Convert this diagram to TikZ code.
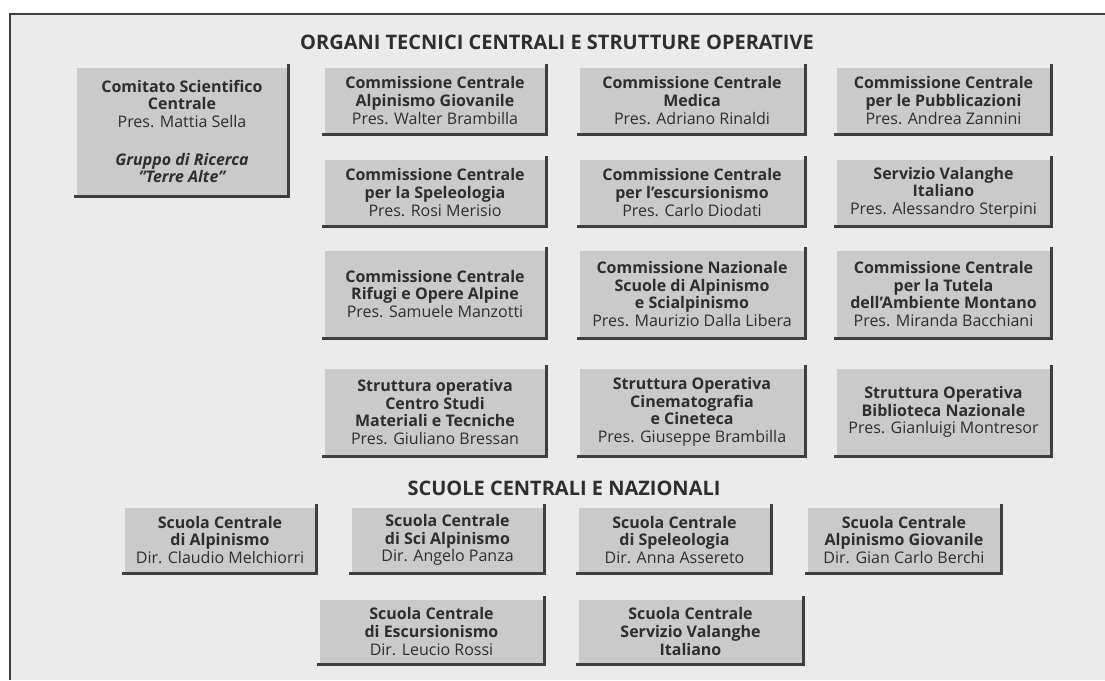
\documentclass[tikz,border=0pt]{standalone}
\usepackage{fontspec}
\setmainfont{Open Sans}
\definecolor{sfondo}{HTML}{EBEBEB}
\definecolor{cassa}{HTML}{CACACA}
\definecolor{ombra}{HTML}{3E3E3E}
\definecolor{testo}{HTML}{2E2E2E}
\newcommand{\presid}[1]{{\mdseries #1}}
\begin{document}
\begin{tikzpicture}
    [
  x=1pt, y=-1pt,
  ente/.style={
    rectangle,
    fill=cassa,
    inner sep=0pt,
    align=center,
    text=testo,
    font=\fontsize{16}{17.6}\selectfont\bfseries
  },
  titolo/.style={
    text=testo,
    inner sep=0pt,
    font=\fontsize{20}{24}\selectfont\bfseries
  },
  ombreggia/.style={
    draw=ombra,
    line width=3.5pt
  }
  ]
  \useasboundingbox (0,0) rectangle (1105,680);
  \fill [sfondo] (10,14) rectangle (1105,680);
  \coordinate (angolo) at (10,14);
  \coordinate (fineA) at (1105,14);
  \coordinate (fineB) at (10,680);
  \draw [ombra, line width=1.6pt] (fineB) -- (angolo) -- (fineA);

  \node (organi) at (557,42) [titolo] {ORGANI TECNICI CENTRALI E STRUTTURE OPERATIVE};
  \node (scuole) at (564,488) [titolo] {SCUOLE CENTRALI E NAZIONALI};

  \node (comitato) at (182,131.5) [ente, minimum width=210pt, minimum height=127pt]
    {Comitato Scientifico\\Centrale\\\presid{Pres. Mattia Sella}\\[20pt]
     {\itshape Gruppo di Ricerca}\\{\itshape "Terre Alte"}};

  \node (giovanile) at (435,100.5) [ente, minimum width=220pt, minimum height=65pt]
    {Commissione Centrale\\Alpinismo Giovanile\\\presid{Pres. Walter Brambilla}};
  \node (medica) at (692,100.5) [ente, minimum width=224pt, minimum height=65pt]
    {Commissione Centrale\\Medica\\\presid{Pres. Adriano Rinaldi}};
  \node (pubblicazioni) at (943.5,100.5) [ente, minimum width=213pt, minimum height=65pt]
    {Commissione Centrale\\per le Pubblicazioni\\\presid{Pres. Andrea Zannini}};

  \node (speleologia) at (435,192.5) [ente, minimum width=220pt, minimum height=65pt]
    {Commissione Centrale\\per la Speleologia\\\presid{Pres. Rosi Merisio}};
  \node (escursionismo) at (692,192.5) [ente, minimum width=224pt, minimum height=65pt]
    {Commissione Centrale\\per l’escursionismo\\\presid{Pres. Carlo Diodati}};
  \node (valanghe) at (943.5,192.5) [ente, minimum width=213pt, minimum height=65pt]
    {Servizio Valanghe\\Italiano\\\presid{Pres. Alessandro Sterpini}};

  \node (rifugi) at (435,294) [ente, minimum width=220pt, minimum height=86pt]
    {Commissione Centrale\\Rifugi e Opere Alpine\\\presid{Pres. Samuele Manzotti}};
  \node (nazionale) at (692,294) [ente, minimum width=224pt, minimum height=86pt]
    {Commissione Nazionale\\Scuole di Alpinismo\\e Scialpinismo\\\presid{Pres. Maurizio Dalla Libera}};
  \node (tutela) at (943.5,294) [ente, minimum width=213pt, minimum height=86pt]
    {Commissione Centrale\\per la Tutela\\dell’Ambiente Montano\\\presid{Pres. Miranda Bacchiani}};

  \node (studi) at (435,412) [ente, minimum width=220pt, minimum height=86pt]
    {Struttura operativa\\Centro Studi\\Materiali e Tecniche\\\presid{Pres. Giuliano Bressan}};
  \node (cineteca) at (692,412) [ente, minimum width=224pt, minimum height=86pt]
    {Struttura Operativa\\Cinematografia\\e Cineteca\\\presid{Pres. Giuseppe Brambilla}};
  \node (biblioteca) at (943.5,412) [ente, minimum width=213pt, minimum height=86pt]
    {Struttura Operativa\\Biblioteca Nazionale\\\presid{Pres. Gianluigi Montresor}};

  \node (salpinismo) at (220,540) [ente, minimum width=190pt, minimum height=64pt]
    {Scuola Centrale\\di Alpinismo\\\presid{Dir. Claudio Melchiorri}};
  \node (ssci) at (447.5,540) [ente, minimum width=191pt, minimum height=64pt]
    {Scuola Centrale\\di Sci Alpinismo\\\presid{Dir. Angelo Panza}};
  \node (sspeleo) at (674.5,540) [ente, minimum width=191pt, minimum height=64pt]
    {Scuola Centrale\\di Speleologia\\\presid{Dir. Anna Assereto}};
  \node (sgiovanile) at (904,540) [ente, minimum width=192pt, minimum height=64pt]
    {Scuola Centrale\\Alpinismo Giovanile\\\presid{Dir. Gian Carlo Berchi}};

  \node (sescurs) at (431.5,631.5) [ente, minimum width=223pt, minimum height=63pt]
    {Scuola Centrale\\di Escursionismo\\\presid{Dir. Leucio Rossi}};
  \node (svalanghe) at (690.5,631.5) [ente, minimum width=223pt, minimum height=63pt]
    {Scuola Centrale\\Servizio Valanghe\\Italiano};

  \foreach \n in {comitato, giovanile, medica, pubblicazioni, speleologia,
    escursionismo, valanghe, rifugi, nazionale, tutela, studi, cineteca,
    biblioteca, salpinismo, ssci, sspeleo, sgiovanile, sescurs, svalanghe}
    \draw [ombreggia] ([shift={(1.5,-4)}]\n.north east) -- ([shift={(1.5,1.5)}]\n.south east)
      -- ([shift={(-3,1.5)}]\n.south west);
\end{tikzpicture}
\end{document}
